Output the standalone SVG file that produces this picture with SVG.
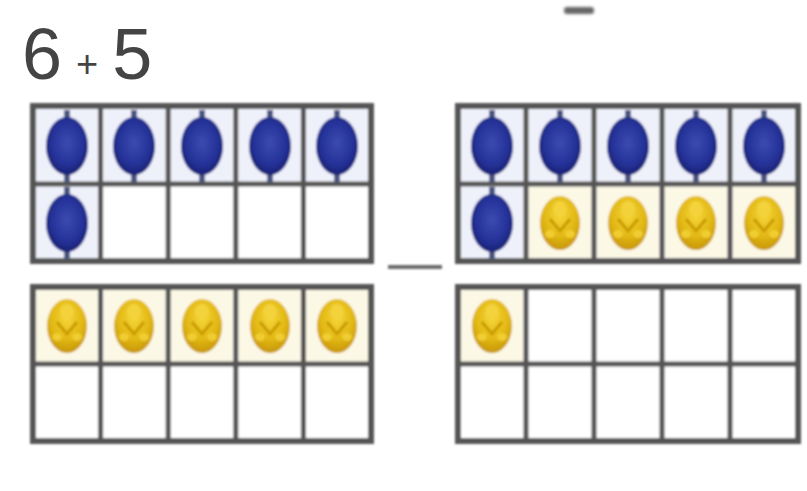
<svg xmlns="http://www.w3.org/2000/svg" xmlns:xlink="http://www.w3.org/1999/xlink" width="807" height="491" viewBox="0 0 807 491">
<defs>
<style>
.frame{fill:#ffffff;stroke:#555;stroke-width:6}
.div{stroke:#555;stroke-width:5;fill:none}
.cb{fill:#eef0fa}
.cy{fill:#fcf8e6}
.t{font-family:"Liberation Sans",Arial,sans-serif;fill:#444}
</style>
<filter id="soft" filterUnits="userSpaceOnUse" x="0" y="0" width="807" height="491"><feGaussianBlur stdDeviation="0.9"/></filter>
<filter id="soft2" filterUnits="userSpaceOnUse" x="0" y="0" width="807" height="491"><feGaussianBlur stdDeviation="1.4"/></filter>
<radialGradient id="gb" cx="50%" cy="45%" r="60%">
<stop offset="0" stop-color="#3b4bb0"/>
<stop offset="0.6" stop-color="#26339a"/>
<stop offset="1" stop-color="#151d6a"/>
</radialGradient>
<radialGradient id="gy" cx="50%" cy="35%" r="65%">
<stop offset="0" stop-color="#f6d63a"/>
<stop offset="0.6" stop-color="#e2b914"/>
<stop offset="1" stop-color="#c7960a"/>
</radialGradient>
<g id="blue">
<rect x="-3" y="-36" width="6" height="10" fill="#4a5580"/>
<rect x="-3" y="26" width="6" height="10" fill="#4a5580"/>
<ellipse cx="0" cy="0" rx="21" ry="29" fill="url(#gb)"/>
</g>
<g id="yellow">
<ellipse cx="0" cy="0" rx="20" ry="27" fill="url(#gy)"/>
<ellipse cx="0" cy="-14" rx="7" ry="8" fill="#f3d23a"/>
<path d="M-10,-4 L0,8 L10,-4" stroke="#c99a05" stroke-width="3" fill="none"/>
<ellipse cx="-10" cy="11" rx="5" ry="4" fill="#f0cd30"/>
<ellipse cx="10" cy="11" rx="5" ry="4" fill="#f0cd30"/>
</g>
</defs>
<rect width="807" height="491" fill="#ffffff"/>
<rect x="564" y="7" width="30" height="7" rx="3" fill="#666" filter="url(#soft2)"/>

<g id="title">
<text class="t" x="22" y="79" font-size="72">6<tspan font-size="38" dx="14" dy="-2">+</tspan><tspan dx="14" dy="2">5</tspan></text>
</g>

<g id="connectors">
<rect x="388" y="265" width="54" height="4" fill="#6a6a6a" filter="url(#soft)"/>
</g>

<g id="frame-left-top" filter="url(#soft)">
<rect class="frame" x="33" y="106" width="338" height="155"/>
<rect class="cb" x="36" y="109" width="62" height="72"/>
<rect class="cb" x="104" y="109" width="62" height="72"/>
<rect class="cb" x="171" y="109" width="62" height="72"/>
<rect class="cb" x="239" y="109" width="62" height="72"/>
<rect class="cb" x="306" y="109" width="62" height="72"/>
<rect class="cb" x="36" y="186" width="62" height="72"/>
<path class="div" d="M100.6,106V261M168.2,106V261M235.8,106V261M303.4,106V261M33,184H371"/>
<use xlink:href="#blue" x="67" y="146"/>
<use xlink:href="#blue" x="134" y="146"/>
<use xlink:href="#blue" x="202" y="146"/>
<use xlink:href="#blue" x="270" y="146"/>
<use xlink:href="#blue" x="337" y="146"/>
<use xlink:href="#blue" x="67" y="223"/>
</g>

<g id="frame-left-bottom" filter="url(#soft)">
<rect class="frame" x="33" y="287" width="338" height="154"/>
<rect class="cy" x="36" y="290" width="62" height="72"/>
<rect class="cy" x="104" y="290" width="62" height="72"/>
<rect class="cy" x="171" y="290" width="62" height="72"/>
<rect class="cy" x="239" y="290" width="62" height="72"/>
<rect class="cy" x="306" y="290" width="62" height="72"/>
<path class="div" d="M100.6,287V441M168.2,287V441M235.8,287V441M303.4,287V441M33,364H371"/>
<use xlink:href="#yellow" x="67" y="326"/>
<use xlink:href="#yellow" x="134" y="326"/>
<use xlink:href="#yellow" x="202" y="326"/>
<use xlink:href="#yellow" x="270" y="326"/>
<use xlink:href="#yellow" x="337" y="326"/>
</g>

<g id="frame-right-top" filter="url(#soft)">
<rect class="frame" x="458" y="106" width="340" height="155"/>
<rect class="cb" x="461" y="109" width="62" height="72"/>
<rect class="cb" x="529" y="109" width="62" height="72"/>
<rect class="cb" x="597" y="109" width="62" height="72"/>
<rect class="cb" x="665" y="109" width="62" height="72"/>
<rect class="cb" x="733" y="109" width="62" height="72"/>
<rect class="cb" x="461" y="186" width="62" height="72"/>
<rect class="cy" x="529" y="186" width="62" height="72"/>
<rect class="cy" x="597" y="186" width="62" height="72"/>
<rect class="cy" x="665" y="186" width="62" height="72"/>
<rect class="cy" x="733" y="186" width="62" height="72"/>
<path class="div" d="M526,106V261M594,106V261M662,106V261M730,106V261M458,184H798"/>
<use xlink:href="#blue" x="492" y="146"/>
<use xlink:href="#blue" x="560" y="146"/>
<use xlink:href="#blue" x="628" y="146"/>
<use xlink:href="#blue" x="696" y="146"/>
<use xlink:href="#blue" x="764" y="146"/>
<use xlink:href="#blue" x="492" y="223"/>
<use xlink:href="#yellow" x="560" y="223"/>
<use xlink:href="#yellow" x="628" y="223"/>
<use xlink:href="#yellow" x="696" y="223"/>
<use xlink:href="#yellow" x="764" y="223"/>
</g>

<g id="frame-right-bottom" filter="url(#soft)">
<rect class="frame" x="458" y="287" width="340" height="154"/>
<rect class="cy" x="461" y="290" width="62" height="72"/>
<path class="div" d="M526,287V441M594,287V441M662,287V441M730,287V441M458,364H798"/>
<use xlink:href="#yellow" x="492" y="326"/>
</g>
</svg>
